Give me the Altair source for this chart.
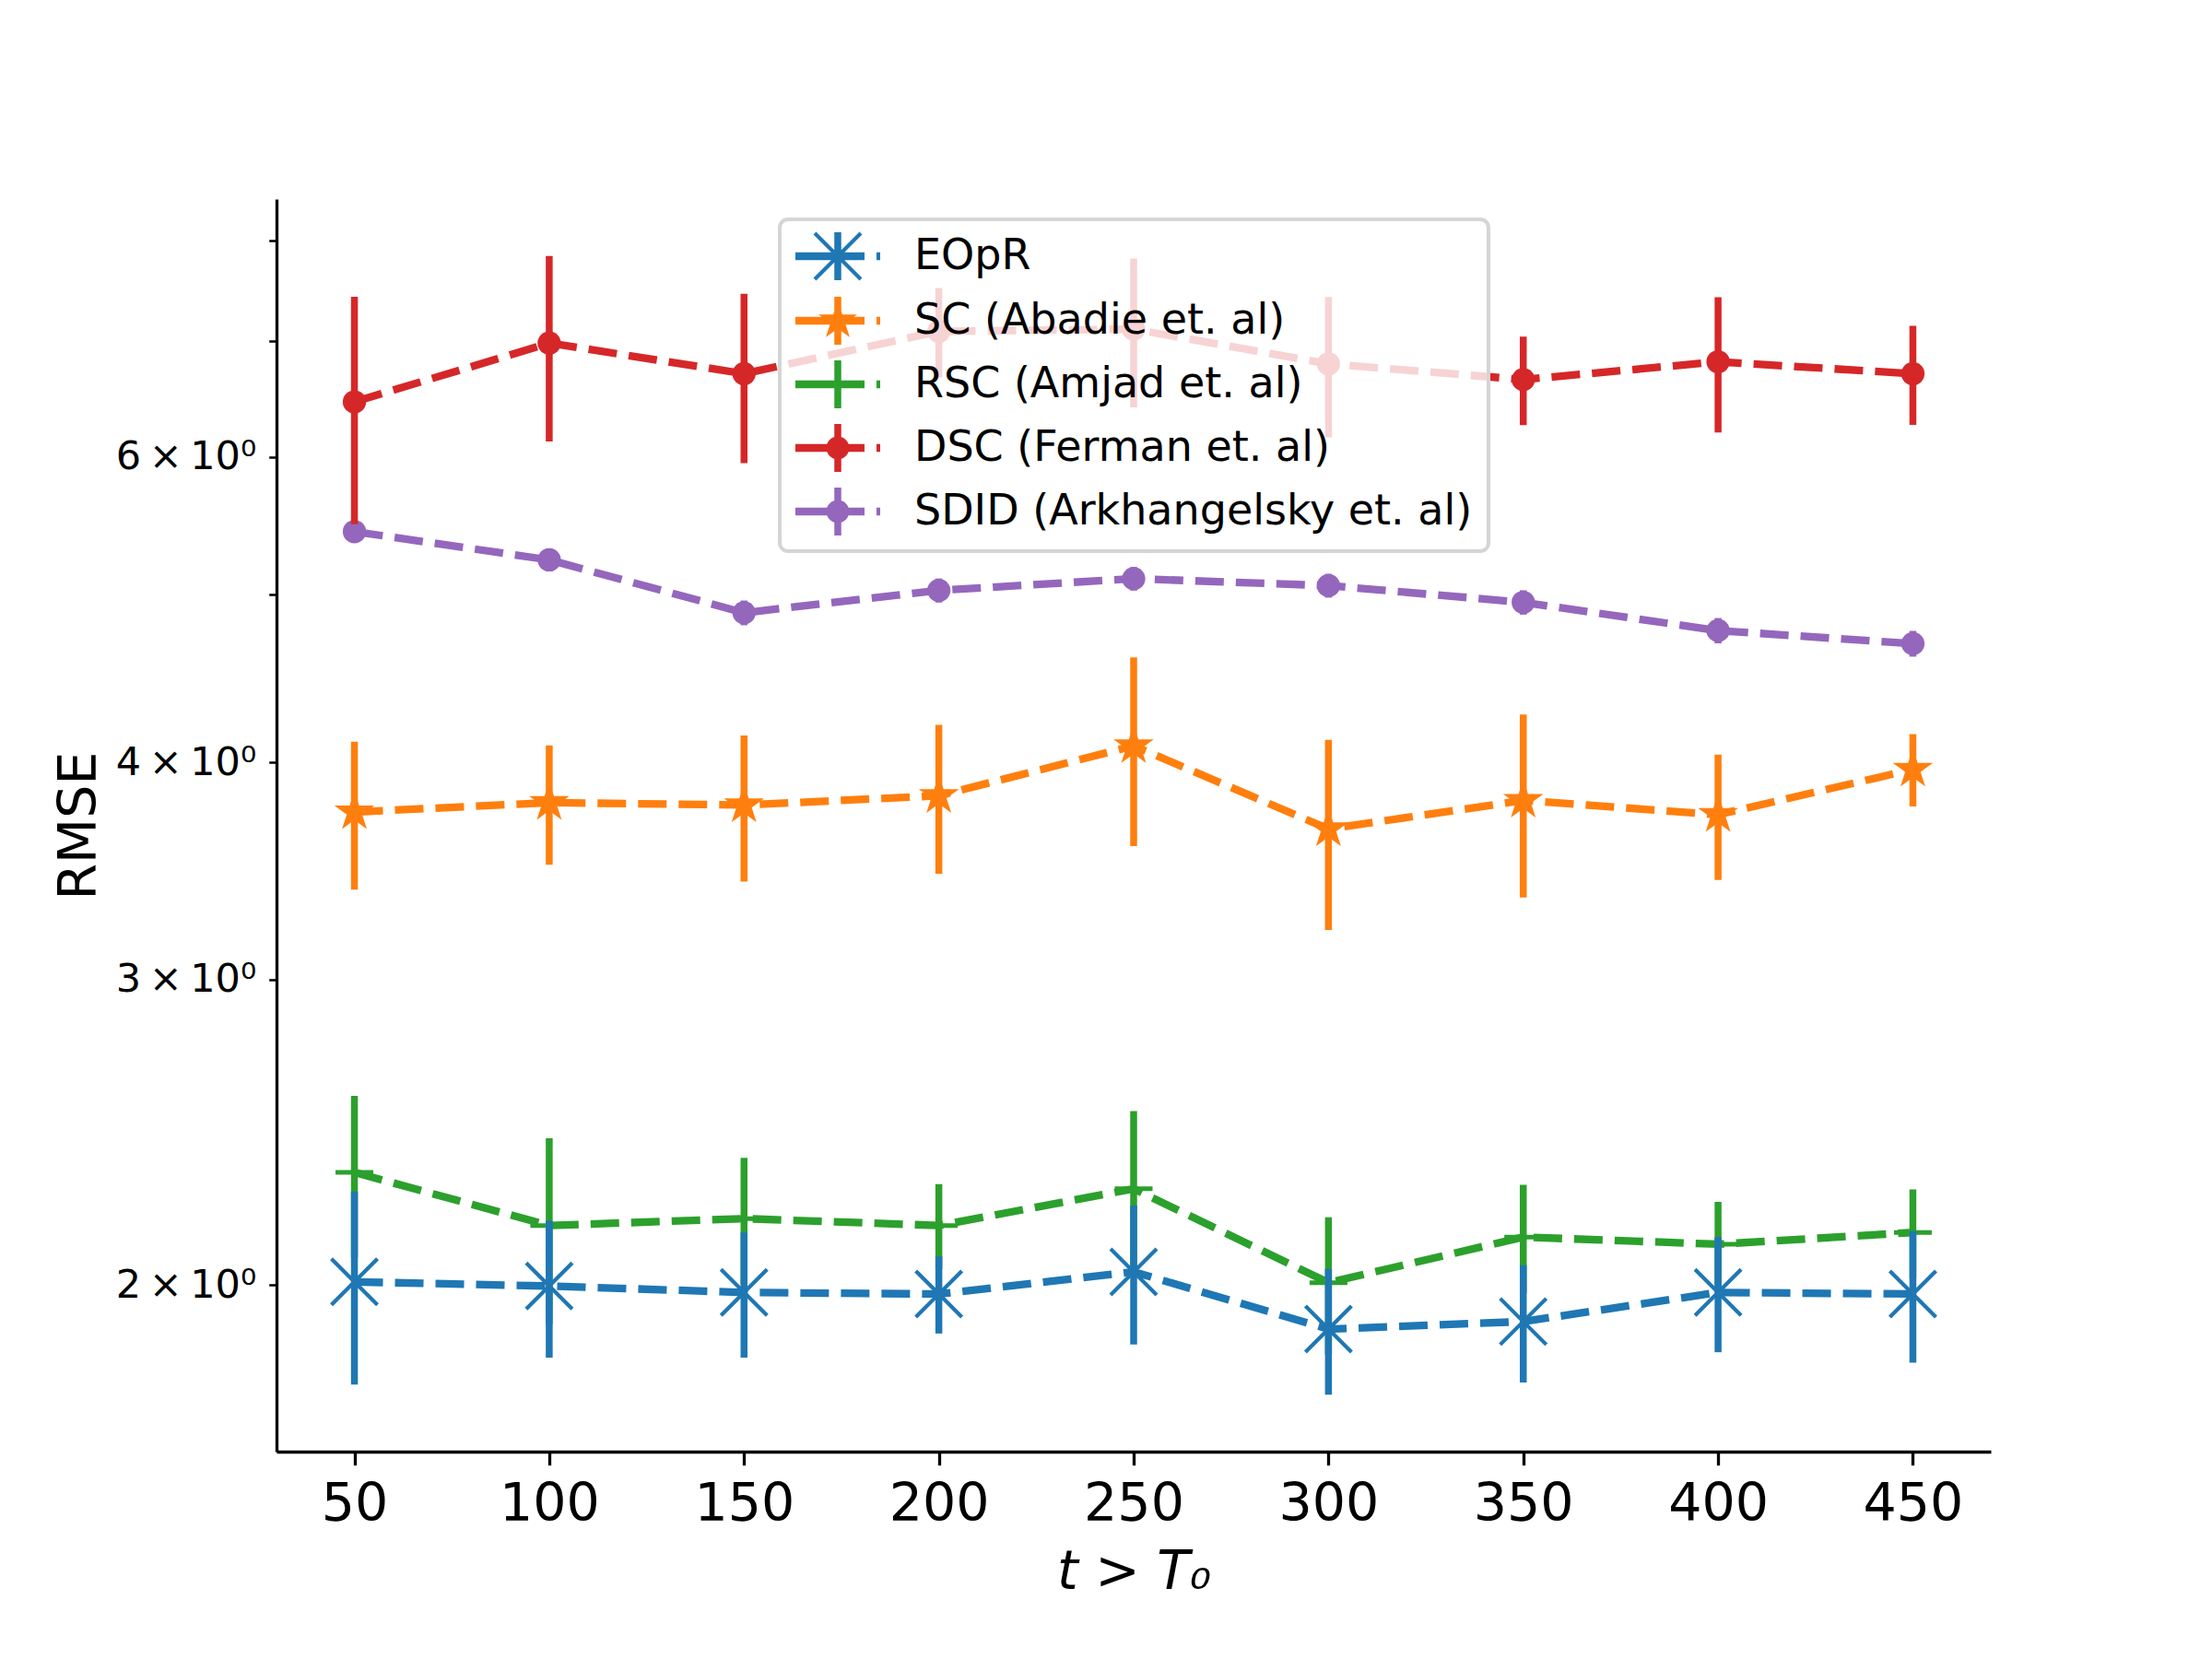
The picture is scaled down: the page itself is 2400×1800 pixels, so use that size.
import math
import altair as alt
import pandas as pd

# ---------------- data ----------------
x_vals = [50, 100, 150, 200, 250, 300, 350, 400, 450]

series_names = [
    "EOpR",
    "SC (Abadie et. al)",
    "RSC (Amjad et. al)",
    "DSC (Ferman et. al)",
    "SDID (Arkhangelsky et. al)",
]
series_colors = ["#1f77b4", "#ff7f0e", "#2ca02c", "#d62728", "#9467bd"]

eopr_mean = [2.008, 1.997, 1.980, 1.976, 2.035, 1.886, 1.905, 1.980, 1.976]
eopr_err = [0.256, 0.181, 0.164, 0.101, 0.187, 0.157, 0.148, 0.151, 0.172]

sc_mean = [3.746, 3.793, 3.781, 3.828, 4.090, 3.663, 3.804, 3.733, 3.964]
sc_err = [0.367, 0.300, 0.365, 0.377, 0.510, 0.460, 0.460, 0.310, 0.190]

rsc_mean = [2.322, 2.164, 2.184, 2.164, 2.272, 2.006, 2.131, 2.111, 2.144]
rsc_err = [0.248, 0.266, 0.183, 0.122, 0.247, 0.182, 0.153, 0.122, 0.126]

dsc_mean = [6.456, 6.980, 6.702, 7.090, 7.110, 6.790, 6.650, 6.809, 6.702]
dsc_err = [0.967, 0.855, 0.750, 0.420, 0.700, 0.630, 0.390, 0.610, 0.440]

sdid_mean = [5.435, 5.235, 4.880, 5.027, 5.106, 5.059, 4.948, 4.766, 4.684]
sdid_err = [0.08, 0.08, 0.08, 0.08, 0.08, 0.08, 0.08, 0.08, 0.08]

y_tick_values = [2, 3, 4, 5, 6, 7, 8]
y_labeled_values = [2, 3, 4, 6]
x_tick_values = [50, 100, 150, 200, 250, 300, 350, 400, 450]

means = [eopr_mean, sc_mean, rsc_mean, dsc_mean, sdid_mean]
errs = [eopr_err, sc_err, rsc_err, dsc_err, sdid_err]

rows = []
for name, m_list, e_list in zip(series_names, means, errs):
    for xv, m, e in zip(x_vals, m_list, e_list):
        rows.append({"series": name, "x": xv, "mean": m, "err": e})
df = pd.DataFrame(rows)

# ---------------- marker shapes ----------------
def poly(pts):
    area = 0.0
    for i in range(len(pts)):
        xa, ya = pts[i]
        xb, yb = pts[(i + 1) % len(pts)]
        area += xa * yb - xb * ya
    if area < 0:
        pts = pts[::-1]
    return "M" + "L".join(f"{p[0]:.4f},{p[1]:.4f}" for p in pts) + "Z"

def rect(x0, y0, x1, y1):
    return poly([(x0, y0), (x1, y0), (x1, y1), (x0, y1)])

def bar(xa, ya, xb, yb, h):
    dx, dy = xb - xa, yb - ya
    ln = math.hypot(dx, dy)
    nx, ny = -dy / ln * h, dx / ln * h
    return poly([(xa + nx, ya + ny), (xb + nx, yb + ny), (xb - nx, yb - ny), (xa - nx, ya - ny)])

def star_pts(R, r, cx=0.0):
    pts = []
    for k in range(10):
        a = math.radians(36 * k)
        rad = R if k % 2 == 0 else r
        pts.append((cx + rad * math.sin(a), -rad * math.cos(a)))
    return pts

def circle(r, cx=0.0):
    return (f"M{cx + r:.4f},0A{r:.4f},{r:.4f} 0 1,1 {cx - r:.4f},0"
            f"A{r:.4f},{r:.4f} 0 1,1 {cx + r:.4f},0Z")

X_PATH = "M-1,-1L1,1M-1,1L1,-1"
PLUS_PATH = "M-1,0L1,0M0,-1L0,1"
STAR_PATH = poly(star_pts(1.0, 0.382))

# legend handles (1 unit = 23 px; handle spans -1..3, marker centred at +1)
U = 23.0
def u(px):
    return px / U
MC = 1.0
handle_base = (
    rect(-1, -u(4.15), MC + u(29), u(4.15))
    + rect(MC + u(42), -u(4.15), MC + u(46), u(4.15))
    + rect(MC - u(3.75), -u(26), MC + u(3.75), u(26))
)
leg_x = (handle_base
         + bar(MC - u(25), -u(25), MC + u(25), u(25), u(2.1))
         + bar(MC - u(25), u(25), MC + u(25), -u(25), u(2.1)))
leg_star = handle_base + poly(star_pts(u(22), u(8.4), MC))
leg_plus = handle_base + rect(MC - u(20.5), -u(2.5), MC + u(20.5), u(2.5)) + rect(MC - u(2.5), -u(20.5), MC + u(2.5), u(20.5))
leg_circle = handle_base + circle(u(12.4), MC)
legend_shapes = [leg_x, leg_star, leg_plus, leg_circle, leg_circle]

marker_specs = [
    dict(shape=X_PATH, size=2500, filled=False, strokeWidth=4.2),
    dict(shape=STAR_PATH, size=2100, filled=True, strokeWidth=0),
    dict(shape=PLUS_PATH, size=1681, filled=False, strokeWidth=5),
    dict(shape="circle", size=640, filled=True, strokeWidth=0),
    dict(shape="circle", size=640, filled=True, strokeWidth=0),
]

# ---------------- scales / axes ----------------
FONT = "DejaVu Sans"
x_scale = alt.Scale(domain=[30, 470], nice=False, zero=False)
y_scale = alt.Scale(type="log", domain=[1.603, 8.45], nice=False, zero=False)

x_axis = alt.Axis(
    values=x_tick_values, title="t > T₀", titleFontStyle="italic",
    titleFontSize=58, titleFontWeight="normal", titleFont=FONT, titlePadding=17,
    labelFontSize=57, labelFont=FONT, labelPadding=14.6, labelColor="black",
    tickSize=14.6, tickWidth=3.3, tickColor="black",
    domainWidth=3.3, domainColor="black", grid=False, labelFlush=False,
)
lab_list = "[" + ",".join(str(v) for v in y_labeled_values) + "]"
y_axis = alt.Axis(
    values=y_tick_values,
    labelExpr=f"indexof({lab_list}, datum.value) >= 0 ? datum.value + '\u2009×\u200910⁰' : ''",
    title="RMSE", titleFontSize=57, titleFontWeight="normal", titleFont=FONT, titlePadding=10,
    labelFontSize=43, labelFont=FONT, labelPadding=14, labelColor="black",
    tickSize=8.3, tickWidth=2.5, tickColor="black",
    domainWidth=3.3, domainColor="black", grid=False, labelFlush=False, labelOverlap=False,
)

X = alt.X("x:Q", scale=x_scale, axis=x_axis)
Y = alt.Y("mean:Q", scale=y_scale, axis=y_axis)
color_scale = alt.Scale(domain=series_names, range=series_colors)
C = alt.Color("series:N", scale=color_scale, legend=None)

base = alt.Chart(df).transform_calculate(
    lo="datum.mean - datum.err", hi="datum.mean + datum.err"
)

legend_props = dict(
    title=None, orient="none", legendX=546, legendY=22,
    symbolSize=(2 * U) ** 2, symbolStrokeWidth=0, symbolOpacity=1, symbolOffset=0,
    labelFontSize=46, labelFont=FONT, labelColor="black", labelLimit=3000,
    labelOffset=83, padding=17, rowPadding=17,
    fillColor="rgba(255,255,255,0.8)", strokeColor="#d5d5d5", cornerRadius=9,
)
legend_layer = base.transform_filter("false").mark_point(filled=True, opacity=1).encode(
    color=alt.Color("series:N", scale=color_scale, legend=alt.Legend(**legend_props)),
    shape=alt.Shape("series:N", scale=alt.Scale(domain=series_names, range=legend_shapes),
                    legend=alt.Legend(**legend_props)),
)

layers = [legend_layer]
for idx in reversed(range(len(series_names))):
    name = series_names[idx]
    sub = base.transform_filter(alt.datum.series == name)
    rule = sub.mark_rule(strokeWidth=7.5, strokeCap="butt").encode(
        x=X, y=alt.Y("lo:Q", scale=y_scale, axis=y_axis), y2="hi:Q", color=C
    )
    line = sub.mark_line(strokeWidth=8.3, strokeDash=[31, 13], strokeCap="butt").encode(
        x=X, y=Y, color=C
    )
    spec = marker_specs[idx]
    pt = sub.mark_point(opacity=1, **spec).encode(x=X, y=Y, color=C)
    layers += [rule, line, pt]

chart = alt.layer(*layers).properties(
    width=1860, height=1359,
    autosize=alt.AutoSizeParams(type="none"),
    padding={"left": 292, "top": 208, "right": 232, "bottom": 217},
    background="white",
).configure_view(stroke=None).configure_legend(strokeWidth=4)

chart.save("out.html", embed_options={"renderer": "svg", "actions": False})
